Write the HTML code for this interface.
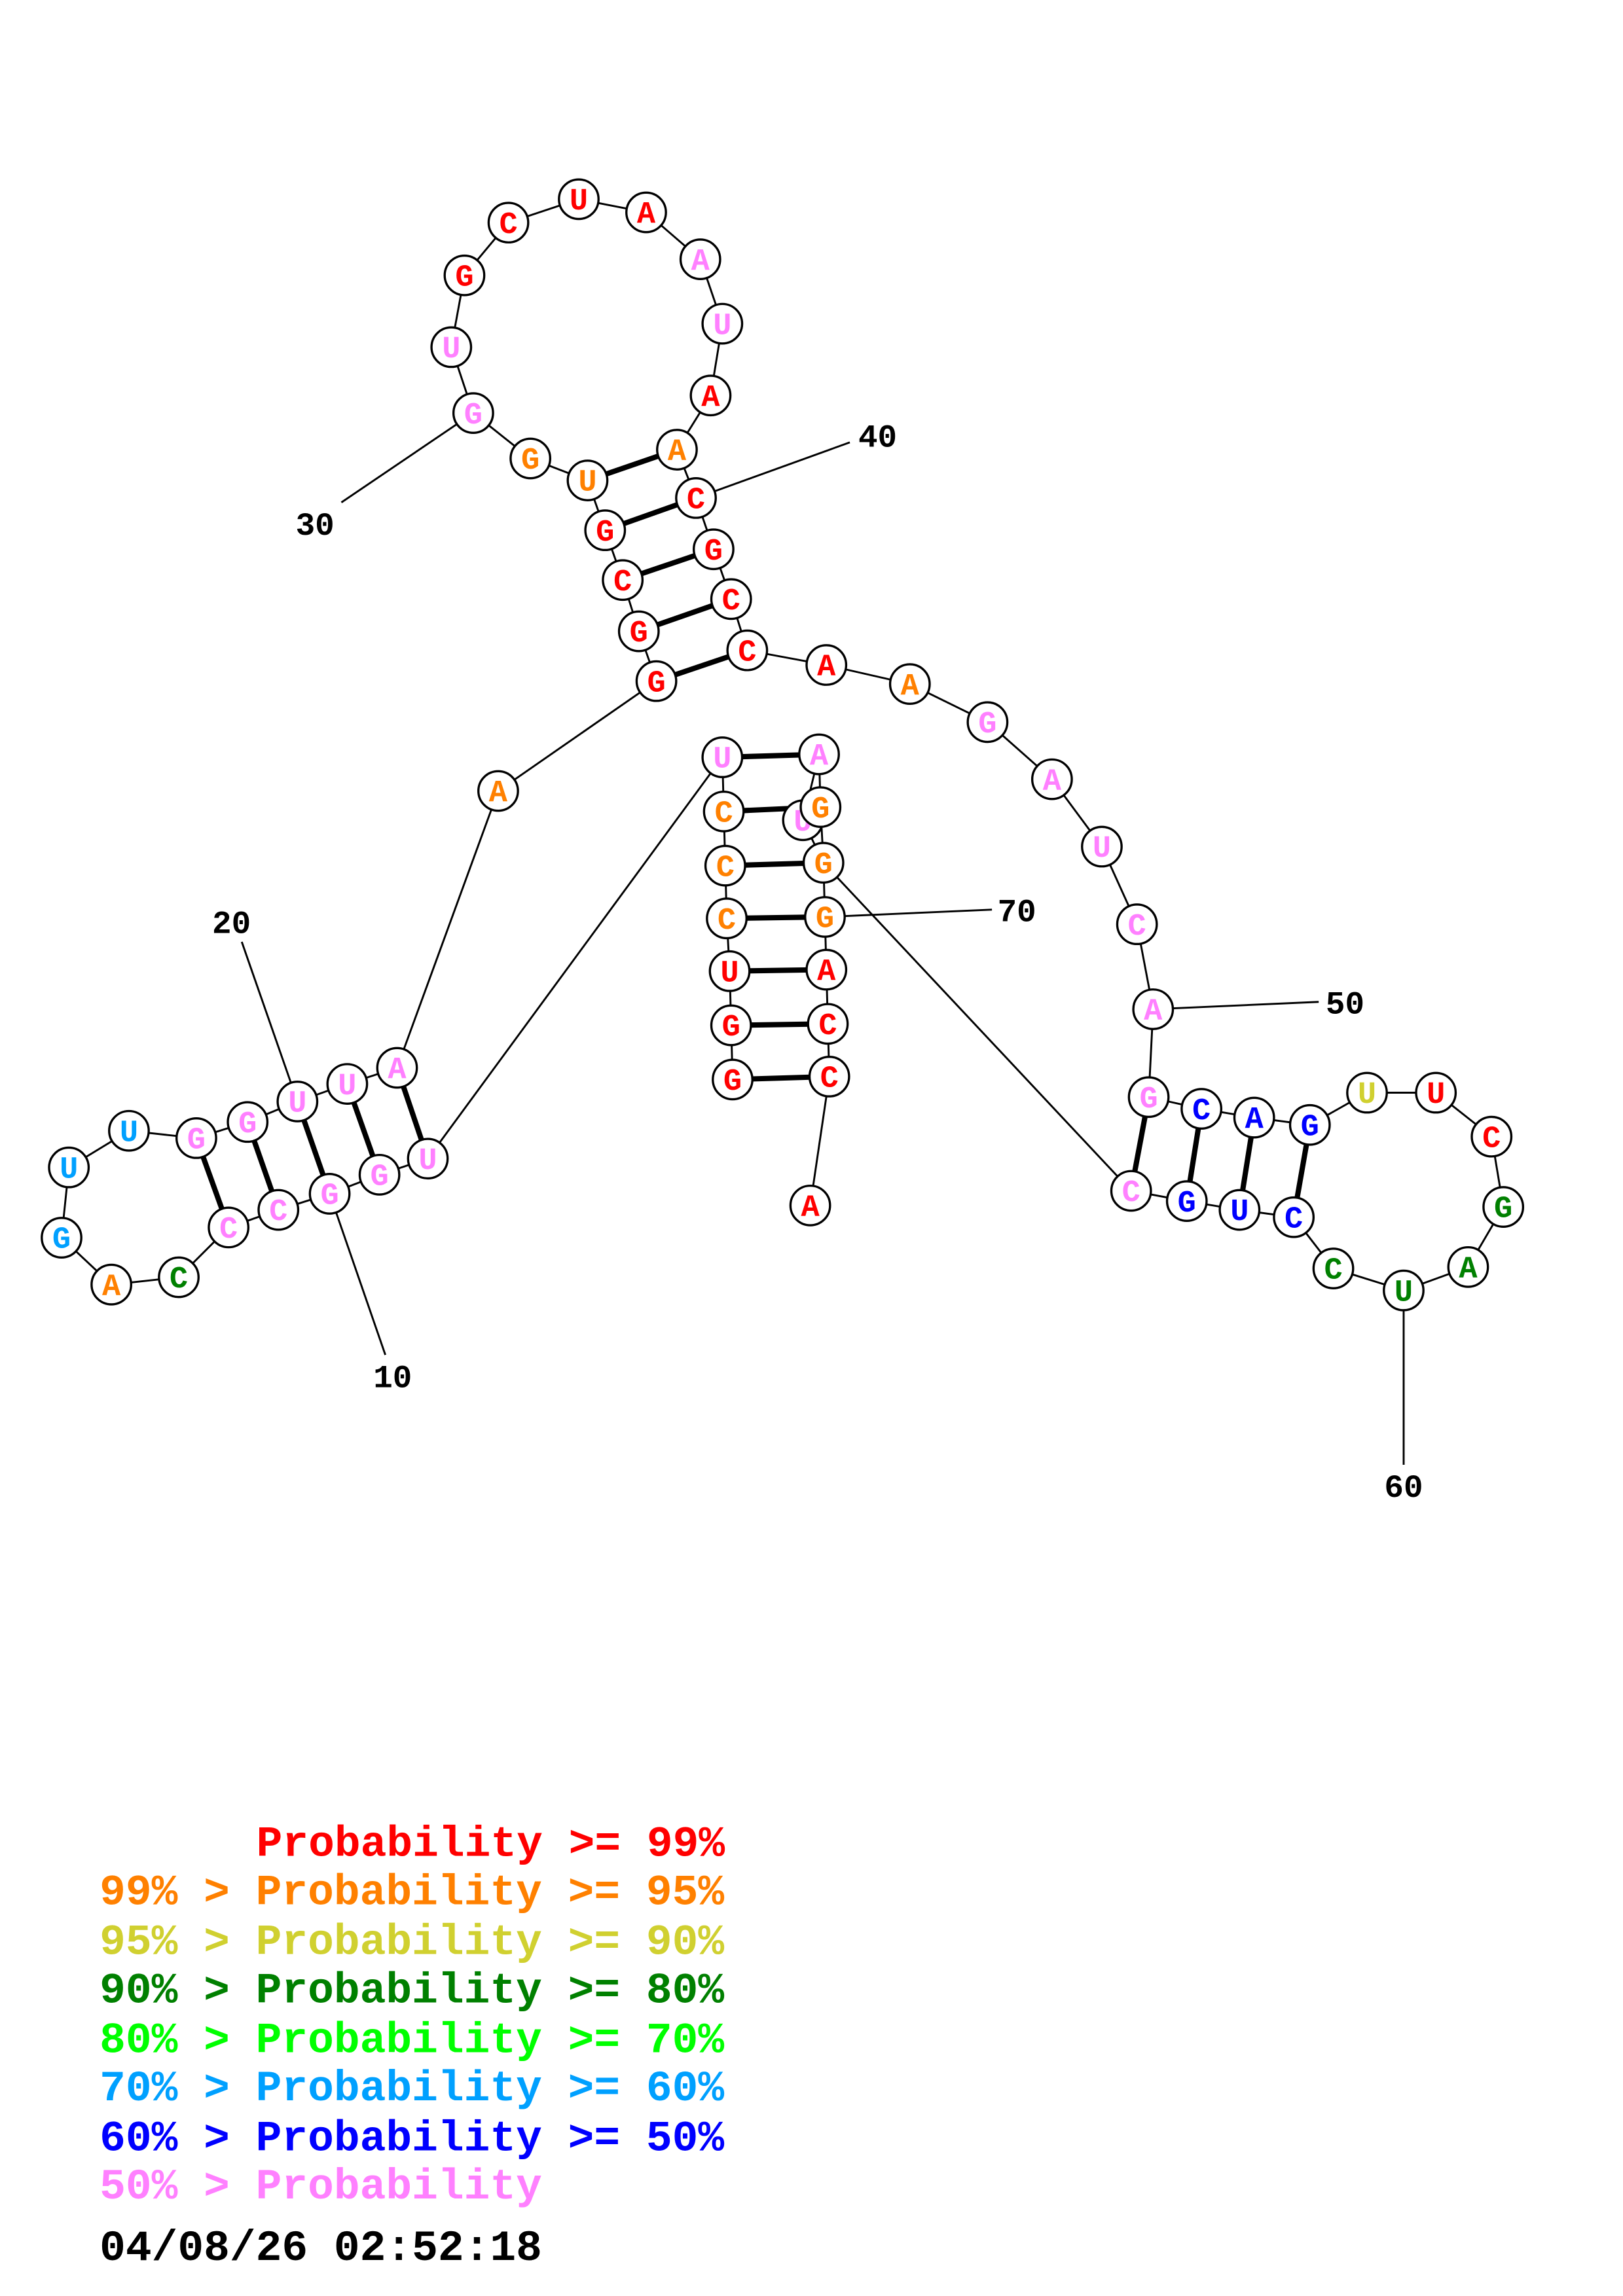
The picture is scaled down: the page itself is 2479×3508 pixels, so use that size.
<!DOCTYPE html>
<html><head><meta charset="utf-8"><style>html,body{margin:0;padding:0;background:#fff}svg{display:block}</style></head>
<body>
<svg xmlns="http://www.w3.org/2000/svg" width="2479" height="3508" viewBox="0 0 1107.7 1567.5">
<rect width="1107.7" height="1567.5" fill="#fff"/>
<g stroke="#000" stroke-width="1.3" fill="none">
<polyline points="500,737 499,700 498,663 496,627 495,591 494,554 493,517 292,791 259,802 225,815 190,826 156,838 122,872 76,877 42,845 47,797 88,772 134,777 169,766 203,752 237,740 271,729 340,540 448,465 436,431 425,396 413,362 401,328 362,313 323,282 308,237 317,188 347,152 395,136 441,145 478,177 493,221 485,270 462,307 475,340 487,375 499,409 510,444 564,454 621,467 674,493 718,532 752,578 776,631 787,689 784,749 820,757 856,763 894,768 933,746 980,746 1018,776 1026,824 1002,865 958,881 910,866 883,831 846,826 810,820 772,813 562,589"/>
<polyline points="562,589 548,560 559,515 560,551 562,589 563,626 564,662 565,699 566,735 553,823"/>
<line x1="225" y1="815" x2="263" y2="925"/>
<line x1="203" y1="752" x2="165" y2="643"/>
<line x1="323" y1="282" x2="233" y2="343"/>
<line x1="475" y1="340" x2="580" y2="302"/>
<line x1="787" y1="689" x2="900" y2="684"/>
<line x1="958" y1="881" x2="958" y2="1000"/>
<line x1="563" y1="626" x2="677" y2="621"/>
</g>
<g stroke="#000" stroke-width="3.6">
<line x1="500" y1="737" x2="566" y2="735"/><line x1="499" y1="700" x2="565" y2="699"/><line x1="498" y1="663" x2="564" y2="662"/><line x1="496" y1="627" x2="563" y2="626"/><line x1="495" y1="591" x2="562" y2="589"/><line x1="494" y1="554" x2="560" y2="551"/><line x1="493" y1="517" x2="559" y2="515"/>
<line x1="292" y1="791" x2="271" y2="729"/><line x1="259" y1="802" x2="237" y2="740"/><line x1="225" y1="815" x2="203" y2="752"/><line x1="190" y1="826" x2="169" y2="766"/><line x1="156" y1="838" x2="134" y2="777"/>
<line x1="448" y1="465" x2="510" y2="444"/><line x1="436" y1="431" x2="499" y2="409"/><line x1="425" y1="396" x2="487" y2="375"/><line x1="413" y1="362" x2="475" y2="340"/><line x1="401" y1="328" x2="462" y2="307"/>
<line x1="784" y1="749" x2="772" y2="813"/><line x1="820" y1="757" x2="810" y2="820"/><line x1="856" y1="763" x2="846" y2="826"/><line x1="894" y1="768" x2="883" y2="831"/>
</g>
<g font-family="Liberation Mono, monospace" font-weight="bold" font-size="21" text-anchor="middle" stroke="#000" stroke-width="1.5">
<g fill="#fff">
<circle cx="548" cy="560" r="13.5"/>
</g>
<text x="548" y="567" fill="#ff80ff" stroke="none">U</text>
<g fill="#fff">
<circle cx="500" cy="737" r="13.5"/><circle cx="499" cy="700" r="13.5"/><circle cx="498" cy="663" r="13.5"/><circle cx="496" cy="627" r="13.5"/><circle cx="495" cy="591" r="13.5"/><circle cx="494" cy="554" r="13.5"/><circle cx="493" cy="517" r="13.5"/><circle cx="292" cy="791" r="13.5"/><circle cx="259" cy="802" r="13.5"/><circle cx="225" cy="815" r="13.5"/><circle cx="190" cy="826" r="13.5"/><circle cx="156" cy="838" r="13.5"/><circle cx="122" cy="872" r="13.5"/><circle cx="76" cy="877" r="13.5"/><circle cx="42" cy="845" r="13.5"/><circle cx="47" cy="797" r="13.5"/><circle cx="88" cy="772" r="13.5"/><circle cx="134" cy="777" r="13.5"/><circle cx="169" cy="766" r="13.5"/><circle cx="203" cy="752" r="13.5"/><circle cx="237" cy="740" r="13.5"/><circle cx="271" cy="729" r="13.5"/><circle cx="340" cy="540" r="13.5"/><circle cx="448" cy="465" r="13.5"/><circle cx="436" cy="431" r="13.5"/><circle cx="425" cy="396" r="13.5"/><circle cx="413" cy="362" r="13.5"/><circle cx="401" cy="328" r="13.5"/><circle cx="362" cy="313" r="13.5"/><circle cx="323" cy="282" r="13.5"/><circle cx="308" cy="237" r="13.5"/><circle cx="317" cy="188" r="13.5"/><circle cx="347" cy="152" r="13.5"/><circle cx="395" cy="136" r="13.5"/><circle cx="441" cy="145" r="13.5"/><circle cx="478" cy="177" r="13.5"/><circle cx="493" cy="221" r="13.5"/><circle cx="485" cy="270" r="13.5"/><circle cx="462" cy="307" r="13.5"/><circle cx="475" cy="340" r="13.5"/><circle cx="487" cy="375" r="13.5"/><circle cx="499" cy="409" r="13.5"/><circle cx="510" cy="444" r="13.5"/><circle cx="564" cy="454" r="13.5"/><circle cx="621" cy="467" r="13.5"/><circle cx="674" cy="493" r="13.5"/><circle cx="718" cy="532" r="13.5"/><circle cx="752" cy="578" r="13.5"/><circle cx="776" cy="631" r="13.5"/><circle cx="787" cy="689" r="13.5"/><circle cx="784" cy="749" r="13.5"/><circle cx="820" cy="757" r="13.5"/><circle cx="856" cy="763" r="13.5"/><circle cx="894" cy="768" r="13.5"/><circle cx="933" cy="746" r="13.5"/><circle cx="980" cy="746" r="13.5"/><circle cx="1018" cy="776" r="13.5"/><circle cx="1026" cy="824" r="13.5"/><circle cx="1002" cy="865" r="13.5"/><circle cx="958" cy="881" r="13.5"/><circle cx="910" cy="866" r="13.5"/><circle cx="883" cy="831" r="13.5"/><circle cx="846" cy="826" r="13.5"/><circle cx="810" cy="820" r="13.5"/><circle cx="772" cy="813" r="13.5"/><circle cx="559" cy="515" r="13.5"/><circle cx="560" cy="551" r="13.5"/><circle cx="562" cy="589" r="13.5"/><circle cx="563" cy="626" r="13.5"/><circle cx="564" cy="662" r="13.5"/><circle cx="565" cy="699" r="13.5"/><circle cx="566" cy="735" r="13.5"/><circle cx="553" cy="823" r="13.5"/>
</g>
<g stroke="none">
<text x="500" y="744" fill="#f00">G</text><text x="499" y="707" fill="#f00">G</text><text x="498" y="670" fill="#f00">U</text><text x="496" y="634" fill="#ff8000">C</text><text x="495" y="598" fill="#ff8000">C</text><text x="494" y="561" fill="#ff8000">C</text><text x="493" y="524" fill="#ff80ff">U</text>
<text x="292" y="798" fill="#ff80ff">U</text><text x="259" y="809" fill="#ff80ff">G</text><text x="225" y="822" fill="#ff80ff">G</text><text x="190" y="833" fill="#ff80ff">C</text><text x="156" y="845" fill="#ff80ff">C</text><text x="122" y="879" fill="#008000">C</text><text x="76" y="884" fill="#ff8000">A</text><text x="42" y="852" fill="#00a0ff">G</text><text x="47" y="804" fill="#00a0ff">U</text><text x="88" y="779" fill="#00a0ff">U</text><text x="134" y="784" fill="#ff80ff">G</text><text x="169" y="773" fill="#ff80ff">G</text><text x="203" y="759" fill="#ff80ff">U</text><text x="237" y="747" fill="#ff80ff">U</text><text x="271" y="736" fill="#ff80ff">A</text>
<text x="340" y="547" fill="#ff8000">A</text><text x="448" y="472" fill="#f00">G</text><text x="436" y="438" fill="#f00">G</text><text x="425" y="403" fill="#f00">C</text><text x="413" y="369" fill="#f00">G</text><text x="401" y="335" fill="#ff8000">U</text><text x="362" y="320" fill="#ff8000">G</text><text x="323" y="289" fill="#ff80ff">G</text><text x="308" y="244" fill="#ff80ff">U</text><text x="317" y="195" fill="#f00">G</text><text x="347" y="159" fill="#f00">C</text><text x="395" y="143" fill="#f00">U</text><text x="441" y="152" fill="#f00">A</text><text x="478" y="184" fill="#ff80ff">A</text><text x="493" y="228" fill="#ff80ff">U</text><text x="485" y="277" fill="#f00">A</text><text x="462" y="314" fill="#ff8000">A</text><text x="475" y="347" fill="#f00">C</text><text x="487" y="382" fill="#f00">G</text><text x="499" y="416" fill="#f00">C</text><text x="510" y="451" fill="#f00">C</text>
<text x="564" y="461" fill="#f00">A</text><text x="621" y="474" fill="#ff8000">A</text><text x="674" y="500" fill="#ff80ff">G</text><text x="718" y="539" fill="#ff80ff">A</text><text x="752" y="585" fill="#ff80ff">U</text><text x="776" y="638" fill="#ff80ff">C</text><text x="787" y="696" fill="#ff80ff">A</text><text x="784" y="756" fill="#ff80ff">G</text><text x="820" y="764" fill="#00f">C</text><text x="856" y="770" fill="#00f">A</text><text x="894" y="775" fill="#00f">G</text><text x="933" y="753" fill="#d0d030">U</text><text x="980" y="753" fill="#f00">U</text><text x="1018" y="783" fill="#f00">C</text><text x="1026" y="831" fill="#008000">G</text><text x="1002" y="872" fill="#008000">A</text><text x="958" y="888" fill="#008000">U</text><text x="910" y="873" fill="#008000">C</text><text x="883" y="838" fill="#00f">C</text><text x="846" y="833" fill="#00f">U</text><text x="810" y="827" fill="#00f">G</text><text x="772" y="820" fill="#ff80ff">C</text>
<text x="559" y="522" fill="#ff80ff">A</text><text x="560" y="558" fill="#ff8000">G</text><text x="562" y="596" fill="#ff8000">G</text><text x="563" y="633" fill="#ff8000">G</text><text x="564" y="669" fill="#f00">A</text><text x="565" y="706" fill="#f00">C</text><text x="566" y="742" fill="#f00">C</text><text x="553" y="830" fill="#f00">A</text>
</g>
</g>
<g font-family="Liberation Mono, monospace" font-weight="bold" font-size="22" text-anchor="middle" fill="#000">
<text x="268" y="947">10</text><text x="158" y="637">20</text><text x="215" y="365">30</text><text x="599" y="305">40</text><text x="918" y="692">50</text><text x="958" y="1022">60</text><text x="694" y="629">70</text>
</g>
<g font-family="Liberation Mono, monospace" font-weight="bold" font-size="29.6">
<text x="175" y="1267" fill="#f00">Probability &gt;= 99%</text>
<text x="68" y="1300" fill="#ff8000">99% &gt; Probability &gt;= 95%</text>
<text x="68" y="1334" fill="#d0d030">95% &gt; Probability &gt;= 90%</text>
<text x="68" y="1367" fill="#008000">90% &gt; Probability &gt;= 80%</text>
<text x="68" y="1401" fill="#00ff00">80% &gt; Probability &gt;= 70%</text>
<text x="68" y="1434" fill="#00a0ff">70% &gt; Probability &gt;= 60%</text>
<text x="68" y="1468" fill="#0000ff">60% &gt; Probability &gt;= 50%</text>
<text x="68" y="1501" fill="#ff80ff">50% &gt; Probability</text>
<text x="68" y="1543" fill="#000">04/08/26 02:52:18</text>
</g>
</svg>
</body></html>
